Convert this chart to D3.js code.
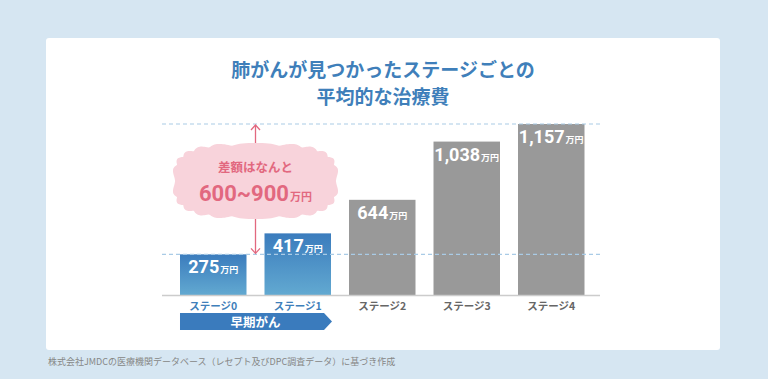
<!DOCTYPE html>
<html><head><meta charset="utf-8">
<script src="https://cdn.jsdelivr.net/npm/d3@7"></script>
<style>
html,body{margin:0;padding:0;background:#d6e6f2;}
svg{display:block;font-family:"Noto Sans CJK JP","Noto Sans",sans-serif;}
</style></head>
<body>
<svg id="chart" width="768" height="379"></svg>
<script>
const titleLines = ["肺がんが見つかったステージごとの", "平均的な治療費"];
const categories = ["ステージ0", "ステージ1", "ステージ2", "ステージ3", "ステージ4"];
const values = [275, 417, 644, 1038, 1157];
const earlyStages = ["ステージ0", "ステージ1"];
const unit = "万円";
const calloutLine1 = "差額はなんと";
const calloutLine2 = "600~900";
const earlyLabel = "早期がん";
const source = "株式会社JMDCの医療機関データベース（レセプト及びDPC調査データ）に基づき作成";

const svg = d3.select("#chart");
const W = 768, H = 379;
svg.append("rect").attr("width", W).attr("height", H).attr("fill", "#d6e6f2");
svg.append("rect").attr("x", 46).attr("y", 38).attr("width", 674).attr("height", 312)
  .attr("rx", 3).attr("fill", "#ffffff");

// title
svg.append("g").selectAll("text").data(titleLines).join("text")
  .attr("x", 383).attr("y", (d, i) => 77 + i * 27)
  .attr("text-anchor", "middle").attr("font-size", 19).attr("font-weight", 700)
  .attr("fill", "#3f7fba").text(d => d);

const x = d3.scaleBand().domain(categories).range([171, 593.5])
  .paddingInner(0.213).paddingOuter(0.1065);
const y = d3.scaleLinear().domain([0, d3.max(values)]).range([295, 124]);

const defs = svg.append("defs");
const grad = defs.append("linearGradient").attr("id", "blueGrad")
  .attr("x1", 0).attr("y1", 0).attr("x2", 0).attr("y2", 1);
grad.append("stop").attr("offset", "0%").attr("stop-color", "#3b7cbd");
grad.append("stop").attr("offset", "100%").attr("stop-color", "#62a9d1");

const data = categories.map((c, i) => ({ c, v: values[i], early: earlyStages.includes(c) }));

// bars
svg.append("g").selectAll("rect").data(data).join("rect")
  .attr("x", d => x(d.c)).attr("width", x.bandwidth())
  .attr("y", d => y(d.v)).attr("height", d => y(0) - y(d.v))
  .attr("fill", d => d.early ? "url(#blueGrad)" : "#999999");

// dashed reference lines
svg.append("g").selectAll("line").data([d3.max(values), values[0]]).join("line")
  .attr("x1", 162).attr("x2", 600).attr("y1", d => y(d)).attr("y2", d => y(d))
  .attr("stroke", "#a9cbe6").attr("stroke-width", 1.2).attr("stroke-dasharray", "4,3");

// baseline
svg.append("line").attr("x1", 162).attr("x2", 600).attr("y1", y(0) + 0.5).attr("y2", y(0) + 0.5)
  .attr("stroke", "#cccccc").attr("stroke-width", 1.5);

// value labels
const fmt = d3.format(",");
const vl = svg.append("g").selectAll("text").data(data).join("text")
  .attr("x", d => x(d.c) + x.bandwidth() / 2).attr("y", d => y(d.v) + 19)
  .attr("text-anchor", "middle").attr("fill", "#ffffff").attr("font-weight", 700)
  .attr("font-family", "Roboto, 'Noto Sans', sans-serif");
vl.append("tspan").attr("font-size", 18).text(d => fmt(d.v));
vl.append("tspan").attr("font-size", 9).attr("dx", 1)
  .attr("font-family", "'Noto Sans CJK JP', sans-serif").text(unit);

// x labels
svg.append("g").selectAll("text").data(data).join("text")
  .attr("x", d => x(d.c) + x.bandwidth() / 2).attr("y", 310)
  .attr("text-anchor", "middle").attr("font-size", 10.5).attr("font-weight", 700)
  .attr("fill", d => d.early ? "#3f7fba" : "#666666").text(d => d.c);

// early banner
const bx0 = x(earlyStages[0]), bx1 = x(earlyStages[1]) + x.bandwidth();
svg.append("path")
  .attr("d", `M${bx0},313 L${bx1 - 7},313 L${bx1 + 1},321.5 L${bx1 - 7},330 L${bx0},330 Z`)
  .attr("fill", "#3a7bbd");
svg.append("text").attr("x", (bx0 + bx1) / 2).attr("y", 326.5).attr("text-anchor", "middle")
  .attr("font-size", 12.5).attr("font-weight", 700).attr("fill", "#ffffff").text(earlyLabel);

// arrow
const ax = (x(categories[0]) + x.bandwidth() + x(categories[1])) / 2;
const pink = "#e2687f";
const cy = 181, crx = 83, cry = 38;
const yTop = y(d3.max(values)) + 1, yBot = y(values[0]) - 1;
svg.append("line").attr("x1", ax).attr("x2", ax).attr("y1", yTop).attr("y2", cy)
  .attr("stroke", pink).attr("stroke-width", 1.3);
svg.append("line").attr("x1", ax).attr("x2", ax).attr("y1", cy).attr("y2", yBot)
  .attr("stroke", pink).attr("stroke-width", 1.3);
svg.append("path").attr("d", `M${ax - 4.5},${yTop + 5} L${ax},${yTop} L${ax + 4.5},${yTop + 5}`)
  .attr("fill", "none").attr("stroke", pink).attr("stroke-width", 1.3);
svg.append("path").attr("d", `M${ax - 4.5},${yBot - 5} L${ax},${yBot} L${ax + 4.5},${yBot - 5}`)
  .attr("fill", "none").attr("stroke", pink).attr("stroke-width", 1.3);

// cloud (scalloped)
const pts = [];
const N = 360, bumps = 22, amp = 2.6, p = 3.2;
for (let i = 0; i < N; i++) {
  const t = i / N * 2 * Math.PI;
  const c = Math.cos(t), s = Math.sin(t);
  const bx = Math.sign(c) * Math.pow(Math.abs(c), 2 / p);
  const by = Math.sign(s) * Math.pow(Math.abs(s), 2 / p);
  const bump = amp * Math.abs(Math.sin(bumps * t / 2));
  pts.push([ax + (crx - amp + bump) * bx, cy + (cry - amp + bump) * by]);
}
svg.append("path").attr("d", d3.line().curve(d3.curveLinearClosed)(pts))
  .attr("fill", "#f8d3db");

svg.append("text").attr("x", ax).attr("y", 172).attr("text-anchor", "middle")
  .attr("font-size", 12.5).attr("font-weight", 700).attr("fill", pink).text(calloutLine1);
const t2 = svg.append("text").attr("x", ax).attr("y", 201).attr("text-anchor", "middle")
  .attr("font-weight", 700).attr("fill", pink);
t2.append("tspan").attr("font-size", 22).attr("font-family", "Roboto, 'Noto Sans', sans-serif").text(calloutLine2);
t2.append("tspan").attr("font-size", 11).attr("dx", 1).text(unit);

// source
svg.append("text").attr("x", 48).attr("y", 365).attr("font-size", 9)
  .attr("fill", "#868686").text(source);
</script>
</body></html>
